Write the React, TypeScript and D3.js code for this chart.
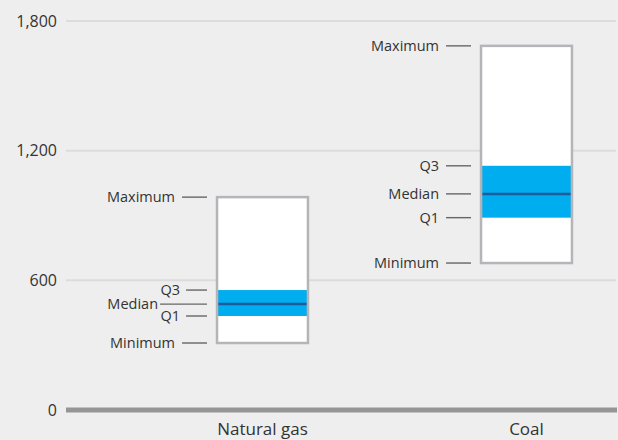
import React from "react";
import * as d3 from "d3";

const categories = ["Natural gas", "Coal"];
const minimums = [310, 680];
const q1s = [435, 890];
const medians = [490, 1000];
const q3s = [555, 1130];
const maximums = [985, 1685];
const yTicks = [0, 600, 1200, 1800];

const W = 618;
const H = 440;
const FONT = "'Open Sans', 'DejaVu Sans', sans-serif";

export default function App() {
  if (typeof document !== "undefined") {
    document.body.style.margin = "0";
    document.body.style.background = "#eeeeee";
  }
  const y = d3.scaleLinear().domain([0, 1800]).range([410, 21]);
  const x = d3
    .scaleBand<string>()
    .domain(categories)
    .range([130.5, 658.5])
    .paddingInner(0.648)
    .paddingOuter(0.324);
  const gridLeft = 66;
  const gridRight = 616;
  const fmt = d3.format(",");
  const bw = x.bandwidth();

  return (
    <svg width={W} height={H} style={{ display: "block", background: "#eeeeee" }} fontFamily={FONT}>
      <rect x={0} y={0} width={W} height={H} fill="#eeeeee" />
      {yTicks.map((t) => (
        <g key={t}>
          {t !== 0 && (
            <line x1={gridLeft} x2={gridRight} y1={y(t)} y2={y(t)} stroke="#dcdcdc" strokeWidth={2} />
          )}
          <text x={57} y={y(t)} dy="0.36em" textAnchor="end" fontSize={16} fill="#333">
            {fmt(t)}
          </text>
        </g>
      ))}
      {categories.map((c, i) => {
        const bx = x(c) as number;
        const cx = bx + bw / 2;
        const yMax = y(maximums[i]);
        const yMin = y(minimums[i]);
        const yQ1 = y(q1s[i]);
        const yQ3 = y(q3s[i]);
        const yMed = y(medians[i]);
        const compact = yQ1 - yQ3 < 40;
        const labels = [
          { t: "Maximum", yy: yMax, lx: bx - 34, tx: bx - 41 },
          { t: "Q3", yy: yQ3, lx: compact ? bx - 30 : bx - 34, tx: compact ? bx - 36 : bx - 41 },
          { t: "Median", yy: yMed, lx: compact ? bx - 56 : bx - 34, tx: compact ? bx - 58 : bx - 41 },
          { t: "Q1", yy: yQ1, lx: compact ? bx - 30 : bx - 34, tx: compact ? bx - 36 : bx - 41 },
          { t: "Minimum", yy: yMin, lx: bx - 34, tx: bx - 41 },
        ];
        return (
          <g key={c}>
            <rect x={bx + 1} y={yMax} width={bw - 2} height={yMin - yMax} fill="#ffffff" />
            <rect x={bx + 1.5} y={yQ3} width={bw - 3} height={yQ1 - yQ3} fill="#00adef" />
            <line x1={bx + 1.5} x2={bx + bw - 1.5} y1={yMed} y2={yMed} stroke="#1a5c9c" strokeWidth={2.5} />
            <rect
              x={bx + 1}
              y={yMax}
              width={bw - 2}
              height={yMin - yMax}
              fill="none"
              stroke="#b4b4b9"
              strokeWidth={2.5}
            />
            {labels.map((l) => (
              <g key={l.t}>
                <line x1={l.lx} x2={bx - 9} y1={l.yy} y2={l.yy} stroke="#666" strokeWidth={1.4} />
                <text x={l.tx} y={l.yy} dy="0.36em" textAnchor="end" fontSize={14.5} fill="#333">
                  {l.t}
                </text>
              </g>
            ))}
            <text x={cx} y={435} textAnchor="middle" fontSize={17} fill="#333">
              {c}
            </text>
          </g>
        );
      })}
      <line x1={gridLeft} x2={gridRight + 1} y1={y(0)} y2={y(0)} stroke="#959595" strokeWidth={5} />
    </svg>
  );
}
